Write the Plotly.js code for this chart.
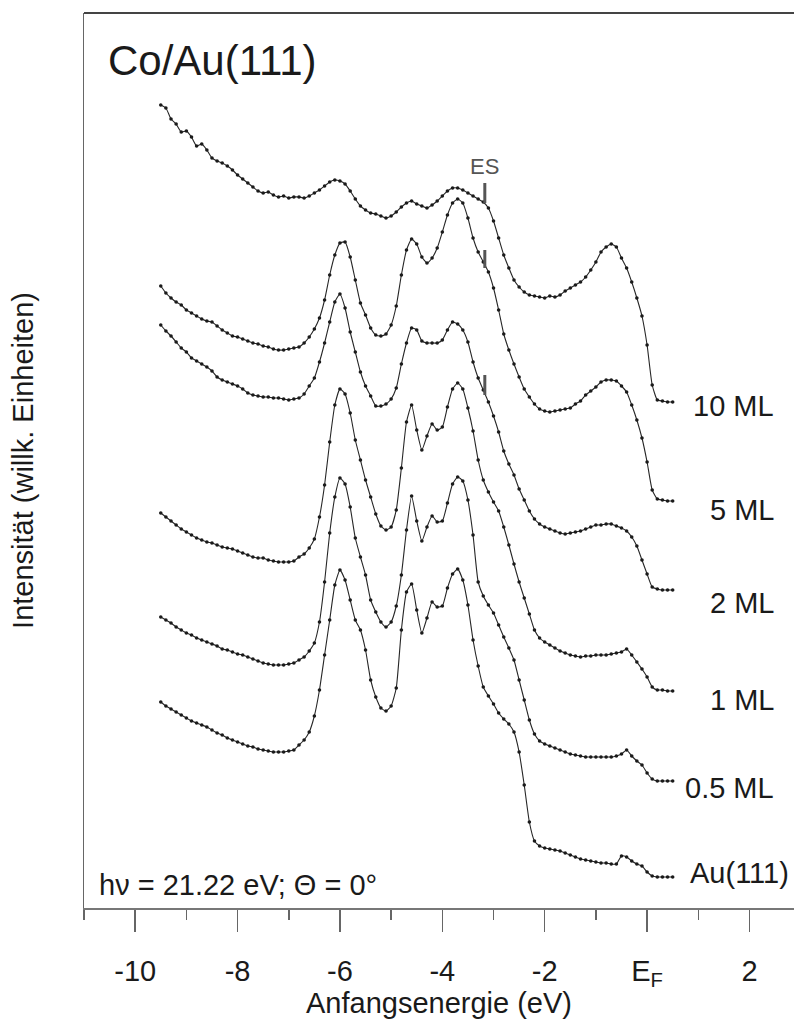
<!DOCTYPE html>
<html>
<head>
<meta charset="utf-8">
<script src="https://cdn.plot.ly/plotly-3.0.1.min.js"></script>
<style>html,body{margin:0;padding:0;background:#fff;}#chart{width:794px;height:1019px;}</style>
</head>
<body>
<div id="chart"></div>
<script>
// Initial-state energy (eV), relative to E_F
const energy = [-9.5,-9.4,-9.3,-9.2,-9.1,-9.0,
 -8.9,-8.8,-8.7,-8.6,-8.5,-8.4,-8.3,-8.2,-8.1,-8.0,
 -7.9,-7.8,-7.7,-7.6,-7.5,-7.4,-7.3,-7.2,-7.1,-7.0,
 -6.9,-6.8,-6.7,-6.6,-6.5,-6.4,-6.3,-6.2,-6.1,-6.0,
 -5.9,-5.8,-5.7,-5.6,-5.5,-5.4,-5.3,-5.2,-5.1,-5.0,
 -4.9,-4.8,-4.7,-4.6,-4.5,-4.4,-4.3,-4.2,-4.1,-4.0,
 -3.9,-3.8,-3.7,-3.6,-3.5,-3.4,-3.3,-3.2,-3.1,-3.0,
 -2.9,-2.8,-2.7,-2.6,-2.5,-2.4,-2.3,-2.2,-2.1,-2.0,
 -1.9,-1.8,-1.7,-1.6,-1.5,-1.4,-1.3,-1.2,-1.1,-1.0,
 -0.9,-0.8,-0.7,-0.6,-0.5,-0.4,-0.3,-0.2,-0.1,0.0,
 0.1,0.2,0.3,0.4,0.5];

// Offset intensities (arbitrary units; axis runs downward, larger = lower on the page)
const ml10 = [105,108,119,124,132,131,
 137,146,144,150,158,161,163,166,170,175,
 179,183,187,191,193,192,195,197,196,198,
 197,197,198,196,193,190,186,182,180,181,
 184,191,199,206,210,213,214,216,218,216,
 212,207,203,201,204,206,208,205,201,196,
 191,188,188,190,193,196,199,202,208,221,
 238,255,268,280,287,292,295,296,297,298,
 296,297,295,291,288,285,282,277,270,262,
 252,247,244,247,258,268,282,298,316,345,
 385,400,401,402,402];

const ml5 = [286,293,298,302,305,310,
 313,316,319,321,322,326,330,333,336,337,
 339,341,343,344,346,347,349,350,350,349,
 348,347,343,337,329,318,300,275,255,243,
 242,257,280,303,315,328,335,336,334,325,
 306,275,250,239,244,257,263,258,248,232,
 215,203,199,203,218,238,252,262,272,288,
 310,334,350,364,377,389,397,404,409,411,
 412,411,410,409,408,404,401,395,391,387,
 382,380,380,381,386,392,405,420,438,462,
 490,499,500,501,501];

const ml2 = [325,331,336,342,348,352,
 358,361,364,367,371,377,380,382,384,386,
 389,393,395,396,397,397,398,398,399,400,
 399,398,394,386,378,362,343,322,302,294,
 308,332,352,372,386,396,406,406,404,399,
 388,364,343,328,330,341,343,343,343,340,
 330,322,324,330,342,362,378,390,402,416,
 432,451,464,475,489,500,511,519,524,527,
 529,531,533,534,533,532,531,529,527,525,
 525,524,524,526,528,531,537,546,560,574,
 587,589,590,590,590];

const ml1 = [513,517,521,525,529,532,
 535,538,540,542,543,545,547,548,549,551,
 553,555,557,558,558,560,561,562,562,562,
 561,557,554,548,539,517,485,442,405,389,
 394,413,440,460,480,497,514,526,530,527,
 510,468,422,405,430,450,436,424,430,427,
 407,389,383,389,408,431,460,480,492,502,
 511,527,545,564,582,598,614,630,638,642,
 645,648,651,653,655,656,657,656,656,655,
 655,655,654,653,652,649,655,662,669,677,
 687,690,690,691,691];

const ml05 = [617,620,623,627,630,633,
 635,638,640,642,644,646,649,650,652,654,
 655,657,659,661,663,664,665,665,665,664,
 663,660,657,651,643,622,582,533,497,478,
 484,507,538,557,575,600,612,622,627,622,
 606,575,530,496,521,541,527,516,522,521,
 503,484,477,481,500,535,582,596,605,613,
 625,637,648,660,680,700,720,734,741,744,
 746,748,750,752,754,755,756,757,757,757,
 757,757,757,756,754,750,756,761,765,773,
 779,781,781,781,781];

const au111 = [702,706,709,712,715,718,
 721,723,725,727,730,733,735,738,740,742,
 744,746,747,749,750,751,752,752,752,751,
 750,745,740,732,716,690,655,620,585,570,
 580,600,620,630,650,680,697,708,711,706,
 688,630,592,584,610,633,618,602,607,606,
 588,574,569,580,605,640,666,687,696,704,
 713,719,724,732,752,785,822,841,846,848,
 849,850,851,853,855,857,859,860,861,862,
 863,863,864,864,856,857,861,864,866,872,
 876,877,877,877,877];

const seriesNames = ['10 ML','5 ML','2 ML','1 ML','0.5 ML','Au(111)'];
const seriesData = [ml10, ml5, ml2, ml1, ml05, au111];

// Surface-state (ES) marker: energy and vertical extent on the three top spectra
const esEnergy = -3.17;
const esBarTop = [183, 250, 375];
const esBarBottom = [203, 268, 395];

// x tick labels
const tickValues = [-10,-8,-6,-4,-2,0,2];
const tickLabels = ['-10','-8','-6','-4','-2','E<sub>F</sub>','2'];

const FONT = 'Liberation Sans, Arial, Helvetica, sans-serif';

const traces = seriesData.map((vals, i) => ({
  x: energy, y: vals, name: seriesNames[i], type: 'scatter', mode: 'lines+markers',
  line: {color: '#262626', width: 1.1, shape: 'spline', smoothing: 0.5},
  marker: {color: '#1a1a1a', size: 3.6},
  showlegend: false, hoverinfo: 'skip'
}));

const esX = [], esY = [];
esBarTop.forEach((t, i) => { esX.push(esEnergy, esEnergy, null); esY.push(t, esBarBottom[i], null); });
traces.push({x: esX, y: esY, type: 'scatter', mode: 'lines',
  line: {color: '#555', width: 3}, showlegend: false, hoverinfo: 'skip'});

// label anchor positions (layout only)
const labelY = [406, 510, 603, 700, 788, 873];
const annotations = seriesNames.map((n, i) => ({
  x: i < 5 ? 2.52 : 0.8, y: labelY[i], xref: 'x', yref: 'y',
  xanchor: i < 5 ? 'right' : 'left', yanchor: 'middle',
  text: n, showarrow: false, font: {family: FONT, size: 29, color: '#1a1a1a'}
}));
annotations.push({x: esEnergy, y: 166, xref: 'x', yref: 'y', xanchor: 'center', yanchor: 'middle',
  text: 'ES', showarrow: false, font: {family: FONT, size: 22, color: '#555'}});
annotations.push({x: -10.75, y: 885, xref: 'x', yref: 'y', xanchor: 'left', yanchor: 'middle',
  text: 'h\u03bd = 21.22 eV; \u0398 = 0\u00b0', showarrow: false, font: {family: FONT, size: 29, color: '#1a1a1a'}});

const layout = {
  width: 794, height: 1019,
  margin: {l: 84, r: 0, t: 13, b: 111, pad: 0},
  paper_bgcolor: '#fff', plot_bgcolor: '#fff',
  font: {family: FONT, size: 29, color: '#1a1a1a'},
  title: {text: 'Co/Au(111)', x: 108/794, xanchor: 'left', y: 1 - 60/1019, yanchor: 'middle',
    font: {family: FONT, size: 42, color: '#1a1a1a'}},
  xaxis: {
    range: [-11, 2.87], showgrid: false, zeroline: false,
    showline: true, linecolor: '#777', linewidth: 2,
    ticks: 'outside', ticklen: 22, tickwidth: 1.5, tickcolor: '#666',
    tickvals: tickValues, ticktext: tickLabels, ticklabelstandoff: 14,
    tickfont: {family: FONT, size: 29, color: '#1a1a1a'},
    minor: {ticks: 'outside', ticklen: 10, tickwidth: 1.5, tickcolor: '#666', dtick: 1, tick0: 0, showgrid: false},
    title: {text: 'Anfangsenergie (eV)', standoff: 8, font: {family: FONT, size: 29, color: '#1a1a1a'}}
  },
  yaxis: {
    range: [908, 13], showgrid: false, zeroline: false,
    showline: true, linecolor: '#666', linewidth: 1.5,
    ticks: '', showticklabels: false,
    title: {text: 'Intensit\u00e4t (willk. Einheiten)', standoff: 40, font: {family: FONT, size: 29, color: '#1a1a1a'}}
  },
  shapes: [{type: 'line', xref: 'paper', yref: 'paper', x0: 0, x1: 1, y0: 1, y1: 1,
    line: {color: '#444', width: 2}}],
  annotations: annotations
};

Plotly.newPlot('chart', traces, layout, {staticPlot: true, displayModeBar: false});
</script>
</body>
</html>
